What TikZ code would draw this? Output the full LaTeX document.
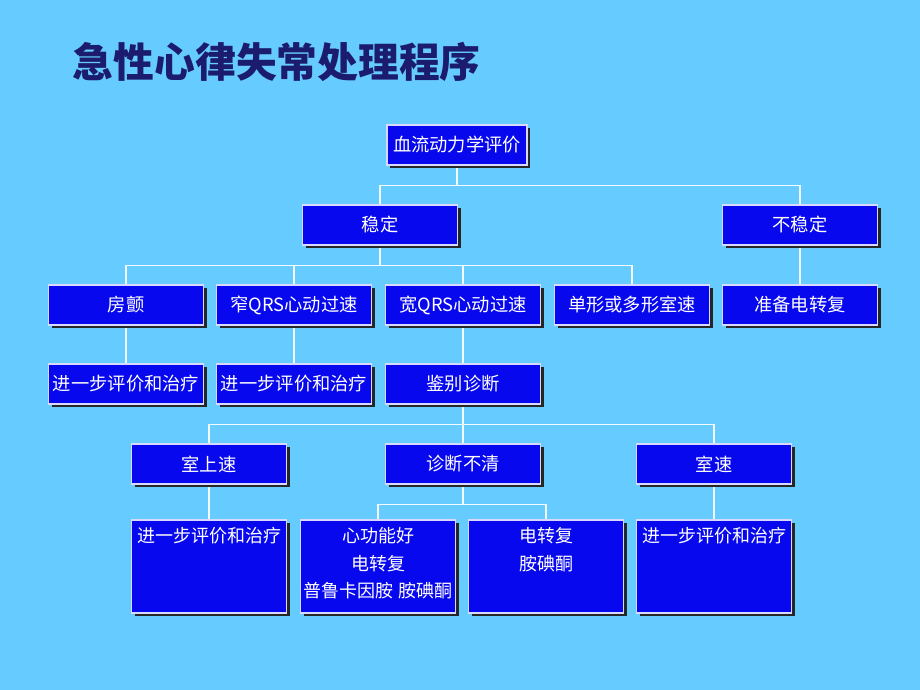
\documentclass[tikz,border=0pt]{standalone}
\usepackage{fontspec}
\newfontfamily\cjk{Noto Sans CJK SC}
\usetikzlibrary{shadows,backgrounds}

\definecolor{sky}{RGB}{102,204,255}
\definecolor{boxblue}{RGB}{8,8,238}
\definecolor{navy}{RGB}{28,28,110}

\tikzset{
  box/.style={draw=white!85!blue, line width=0.8pt, fill=boxblue, text=white,
    minimum width=3.875cm, minimum height=1cm, inner sep=0pt,
    font=\cjk\fontsize{13}{19}\selectfont,
    drop shadow={shadow xshift=0.08cm, shadow yshift=-0.08cm, opacity=1, fill=black!85}},
  tallbox/.style={box, minimum height=2.325cm},
  boxtext/.style={text=white, align=center, inner sep=0pt,
    font=\cjk\fontsize{12.8}{19.5}\selectfont},
  link/.style={white!92!sky, line width=0.9pt}
}

\begin{document}
\begin{tikzpicture}[x=0.025cm, y=-0.025cm]
\useasboundingbox (0,0) rectangle (920,690);

\node[anchor=west, text=navy, font=\cjk\bfseries\fontsize{29}{34}\selectfont] (title) at (68,62) {急性心律失常处理程序};

% levels of the chart
\node[box, minimum width=3.5cm] (eval) at (457,145) {血流动力学评价};
\node[box] (stable) at (380,225) {稳定};
\node[box] (unstable) at (800,225) {不稳定};

\foreach \x/\n/\t in {126/af/房颤, 294/narrow/窄QRS心动过速, 463/wide/宽QRS心动过速,
                      632/mono/单形或多形室速, 800/prep/准备电转复}
  \node[box] (\n) at (\x,305) {\t};

\foreach \x/\n/\t in {126/more1/进一步评价和治疗, 294/more2/进一步评价和治疗, 463/diff/鉴别诊断}
  \node[box] (\n) at (\x,384) {\t};

\foreach \x/\n/\t in {209/svt/室上速, 463/unclear/诊断不清, 714/vt/室速}
  \node[box] (\n) at (\x,464) {\t};

\foreach \x/\n/\t in {209/more3/{进一步评价和治疗}, 378/goodfn/{心功能好\\电转复\\普鲁卡因胺 胺碘酮},
                      546/cvamio/{电转复\\胺碘酮}, 714/more4/{进一步评价和治疗}}
  \node[tallbox, label={[boxtext, anchor=north, yshift=-0.2cm]north:\t}] (\n) at (\x,566.5) {};

% connectors
\begin{scope}[on background layer]
  \fill[sky] (0,0) rectangle (920,690);
  \foreach \p/\c in {eval/stable, eval/unstable,
                     stable/af, stable/narrow, stable/wide, stable/mono, unstable/prep,
                     af/more1, narrow/more2, wide/diff,
                     diff/svt, diff/unclear, diff/vt,
                     svt/more3, unclear/goodfn, unclear/cvamio, vt/more4}
    \draw[link] (\p.south) -- ++(0,20) -| (\c.north);
\end{scope}

\end{tikzpicture}
\end{document}
